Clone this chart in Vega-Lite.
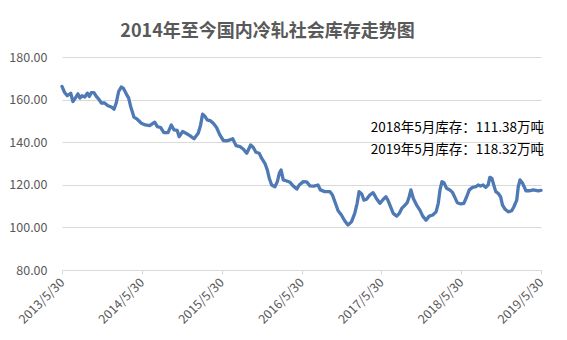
{
  "$schema": "https://vega.github.io/schema/vega-lite/v6.json",
  "width": 479,
  "height": 213,
  "autosize": {"type": "none"},
  "padding": {"left": 62, "top": 57, "right": 26, "bottom": 70},
  "background": "white",
  "title": {
    "text": "2014年至今国内冷轧社会库存走势图",
    "font": "Noto Sans CJK SC",
    "fontSize": 18,
    "fontWeight": "bold",
    "color": "#595959",
    "anchor": "middle",
    "dx": -34,
    "offset": 10
  },
  "config": {"view": {"stroke": null}},
  "datasets": {
    "stock": [
      {"date": "2013/05/30", "v": 166.2},
      {"date": "2013/06/11", "v": 163.3},
      {"date": "2013/06/23", "v": 161.8},
      {"date": "2013/07/09", "v": 163.0},
      {"date": "2013/07/19", "v": 159.1},
      {"date": "2013/07/30", "v": 160.7},
      {"date": "2013/08/11", "v": 162.7},
      {"date": "2013/08/20", "v": 160.7},
      {"date": "2013/08/29", "v": 161.8},
      {"date": "2013/09/11", "v": 161.2},
      {"date": "2013/09/23", "v": 163.0},
      {"date": "2013/10/02", "v": 161.5},
      {"date": "2013/10/11", "v": 163.3},
      {"date": "2013/10/23", "v": 163.3},
      {"date": "2013/11/03", "v": 161.5},
      {"date": "2013/11/14", "v": 160.2},
      {"date": "2013/11/26", "v": 158.4},
      {"date": "2013/12/11", "v": 158.4},
      {"date": "2013/12/26", "v": 157.1},
      {"date": "2014/01/11", "v": 156.5},
      {"date": "2014/01/23", "v": 155.5},
      {"date": "2014/02/02", "v": 158.4},
      {"date": "2014/02/13", "v": 163.8},
      {"date": "2014/02/25", "v": 165.9},
      {"date": "2014/03/06", "v": 165.4},
      {"date": "2014/03/20", "v": 162.7},
      {"date": "2014/03/31", "v": 160.7},
      {"date": "2014/04/09", "v": 156.8},
      {"date": "2014/04/24", "v": 151.8},
      {"date": "2014/05/09", "v": 150.8},
      {"date": "2014/05/28", "v": 148.9},
      {"date": "2014/06/15", "v": 148.1},
      {"date": "2014/07/05", "v": 147.8},
      {"date": "2014/07/28", "v": 149.4},
      {"date": "2014/08/09", "v": 147.3},
      {"date": "2014/08/24", "v": 146.9},
      {"date": "2014/09/08", "v": 144.5},
      {"date": "2014/09/27", "v": 144.5},
      {"date": "2014/10/12", "v": 148.1},
      {"date": "2014/10/24", "v": 145.8},
      {"date": "2014/11/08", "v": 145.5},
      {"date": "2014/11/17", "v": 142.6},
      {"date": "2014/12/03", "v": 145.0},
      {"date": "2014/12/18", "v": 144.2},
      {"date": "2015/01/05", "v": 143.1},
      {"date": "2015/01/24", "v": 141.6},
      {"date": "2015/02/12", "v": 144.2},
      {"date": "2015/02/23", "v": 148.1},
      {"date": "2015/03/04", "v": 153.2},
      {"date": "2015/03/15", "v": 152.1},
      {"date": "2015/03/25", "v": 150.5},
      {"date": "2015/04/10", "v": 150.0},
      {"date": "2015/04/22", "v": 148.9},
      {"date": "2015/05/07", "v": 146.9},
      {"date": "2015/05/22", "v": 143.4},
      {"date": "2015/06/07", "v": 140.8},
      {"date": "2015/06/22", "v": 140.6},
      {"date": "2015/07/07", "v": 141.1},
      {"date": "2015/07/20", "v": 141.6},
      {"date": "2015/08/04", "v": 138.4},
      {"date": "2015/08/22", "v": 137.9},
      {"date": "2015/09/06", "v": 136.8},
      {"date": "2015/09/22", "v": 134.8},
      {"date": "2015/10/10", "v": 138.7},
      {"date": "2015/10/22", "v": 137.5},
      {"date": "2015/11/03", "v": 135.3},
      {"date": "2015/11/18", "v": 134.8},
      {"date": "2015/11/29", "v": 132.5},
      {"date": "2015/12/14", "v": 130.1},
      {"date": "2015/12/25", "v": 127.0},
      {"date": "2016/01/03", "v": 123.1},
      {"date": "2016/01/14", "v": 119.9},
      {"date": "2016/01/29", "v": 119.1},
      {"date": "2016/02/09", "v": 121.5},
      {"date": "2016/02/18", "v": 125.4},
      {"date": "2016/02/26", "v": 127.0},
      {"date": "2016/03/07", "v": 122.3},
      {"date": "2016/03/23", "v": 121.8},
      {"date": "2016/04/07", "v": 121.2},
      {"date": "2016/04/22", "v": 119.4},
      {"date": "2016/05/08", "v": 118.0},
      {"date": "2016/05/19", "v": 119.9},
      {"date": "2016/06/07", "v": 121.5},
      {"date": "2016/06/22", "v": 121.4},
      {"date": "2016/07/07", "v": 119.5},
      {"date": "2016/07/25", "v": 119.4},
      {"date": "2016/08/13", "v": 119.9},
      {"date": "2016/08/24", "v": 117.6},
      {"date": "2016/09/13", "v": 116.8},
      {"date": "2016/10/06", "v": 116.8},
      {"date": "2016/10/18", "v": 115.2},
      {"date": "2016/10/29", "v": 112.1},
      {"date": "2016/11/13", "v": 107.8},
      {"date": "2016/11/28", "v": 105.8},
      {"date": "2016/12/13", "v": 103.1},
      {"date": "2016/12/28", "v": 101.1},
      {"date": "2017/01/13", "v": 102.6},
      {"date": "2017/01/28", "v": 106.6},
      {"date": "2017/02/08", "v": 111.3},
      {"date": "2017/02/17", "v": 116.8},
      {"date": "2017/03/01", "v": 115.7},
      {"date": "2017/03/11", "v": 112.8},
      {"date": "2017/03/23", "v": 113.2},
      {"date": "2017/04/07", "v": 115.2},
      {"date": "2017/04/22", "v": 116.3},
      {"date": "2017/05/07", "v": 113.6},
      {"date": "2017/05/23", "v": 111.3},
      {"date": "2017/06/08", "v": 113.2},
      {"date": "2017/06/20", "v": 114.4},
      {"date": "2017/06/30", "v": 112.5},
      {"date": "2017/07/12", "v": 109.4},
      {"date": "2017/07/23", "v": 106.6},
      {"date": "2017/08/08", "v": 105.3},
      {"date": "2017/08/20", "v": 106.6},
      {"date": "2017/08/31", "v": 108.9},
      {"date": "2017/09/15", "v": 110.5},
      {"date": "2017/09/25", "v": 111.6},
      {"date": "2017/10/04", "v": 114.4},
      {"date": "2017/10/12", "v": 117.6},
      {"date": "2017/10/23", "v": 113.6},
      {"date": "2017/11/07", "v": 110.5},
      {"date": "2017/11/22", "v": 108.1},
      {"date": "2017/12/05", "v": 105.3},
      {"date": "2017/12/20", "v": 103.4},
      {"date": "2018/01/04", "v": 105.3},
      {"date": "2018/01/20", "v": 105.8},
      {"date": "2018/02/04", "v": 107.3},
      {"date": "2018/02/14", "v": 111.3},
      {"date": "2018/02/22", "v": 117.6},
      {"date": "2018/03/03", "v": 121.5},
      {"date": "2018/03/12", "v": 121.0},
      {"date": "2018/03/24", "v": 118.4},
      {"date": "2018/04/08", "v": 117.6},
      {"date": "2018/04/21", "v": 116.3},
      {"date": "2018/05/01", "v": 114.1},
      {"date": "2018/05/12", "v": 111.6},
      {"date": "2018/05/28", "v": 111.0},
      {"date": "2018/06/11", "v": 111.3},
      {"date": "2018/06/24", "v": 114.4},
      {"date": "2018/07/06", "v": 117.6},
      {"date": "2018/07/21", "v": 118.8},
      {"date": "2018/08/05", "v": 119.1},
      {"date": "2018/08/15", "v": 119.9},
      {"date": "2018/08/26", "v": 119.4},
      {"date": "2018/09/07", "v": 119.9},
      {"date": "2018/09/19", "v": 118.8},
      {"date": "2018/09/30", "v": 119.9},
      {"date": "2018/10/08", "v": 123.5},
      {"date": "2018/10/17", "v": 123.1},
      {"date": "2018/10/26", "v": 119.9},
      {"date": "2018/11/04", "v": 116.8},
      {"date": "2018/11/15", "v": 116.0},
      {"date": "2018/11/26", "v": 114.4},
      {"date": "2018/12/05", "v": 110.5},
      {"date": "2018/12/17", "v": 108.5},
      {"date": "2018/12/31", "v": 107.3},
      {"date": "2019/01/16", "v": 107.8},
      {"date": "2019/01/26", "v": 109.7},
      {"date": "2019/02/08", "v": 112.8},
      {"date": "2019/02/15", "v": 119.1},
      {"date": "2019/02/23", "v": 122.3},
      {"date": "2019/03/07", "v": 120.7},
      {"date": "2019/03/22", "v": 117.2},
      {"date": "2019/04/06", "v": 117.2},
      {"date": "2019/04/25", "v": 117.6},
      {"date": "2019/05/17", "v": 117.2},
      {"date": "2019/05/30", "v": 117.4}
    ],
    "notes": [
      {"date": "2019/05/30", "v": 146.7, "label": "2018年5月库存：111.38万吨"},
      {"date": "2019/05/30", "v": 136.4, "label": "2019年5月库存：118.32万吨"}
    ]
  },
  "encoding": {
    "x": {
      "field": "date",
      "type": "temporal",
      "scale": {"domain": [{"year": 2013, "month": 5, "date": 30}, {"year": 2019, "month": 5, "date": 30}]},
      "axis": {
        "title": null,
        "values": [
          {"year": 2013, "month": 5, "date": 30},
          {"year": 2014, "month": 5, "date": 30},
          {"year": 2015, "month": 5, "date": 30},
          {"year": 2016, "month": 5, "date": 30},
          {"year": 2017, "month": 5, "date": 30},
          {"year": 2018, "month": 5, "date": 30},
          {"year": 2019, "month": 5, "date": 30}
        ],
        "format": "%Y/%-m/%d",
        "labelAngle": -45,
        "labelAlign": "right",
        "labelBaseline": "middle",
        "labelPadding": 6,
        "labelFont": "Noto Sans CJK SC",
        "labelFontSize": 12.5,
        "labelColor": "#595959",
        "labelOverlap": false,
        "labelFlush": false,
        "grid": false,
        "domainColor": "#d9d9d9",
        "tickColor": "#d9d9d9",
        "tickSize": 4
      }
    },
    "y": {
      "field": "v",
      "type": "quantitative",
      "scale": {"domain": [80, 180], "nice": false, "zero": false},
      "axis": {
        "title": null,
        "values": [80, 100, 120, 140, 160, 180],
        "format": ".2f",
        "labelFont": "Noto Sans CJK SC",
        "labelFontSize": 12.5,
        "labelColor": "#595959",
        "labelPadding": 15,
        "domain": false,
        "ticks": false,
        "gridColor": "#d9d9d9",
        "gridWidth": 1
      }
    }
  },
  "layer": [
    {
      "data": {"name": "stock"},
      "mark": {"type": "line", "color": "#4e79b4", "strokeWidth": 3.3, "strokeJoin": "round", "strokeCap": "round"}
    },
    {
      "data": {"name": "notes"},
      "mark": {"type": "text", "align": "right", "baseline": "middle", "dx": 3, "font": "Noto Sans CJK SC", "fontSize": 13.5, "color": "#000000"},
      "encoding": {"text": {"field": "label"}}
    }
  ]
}
